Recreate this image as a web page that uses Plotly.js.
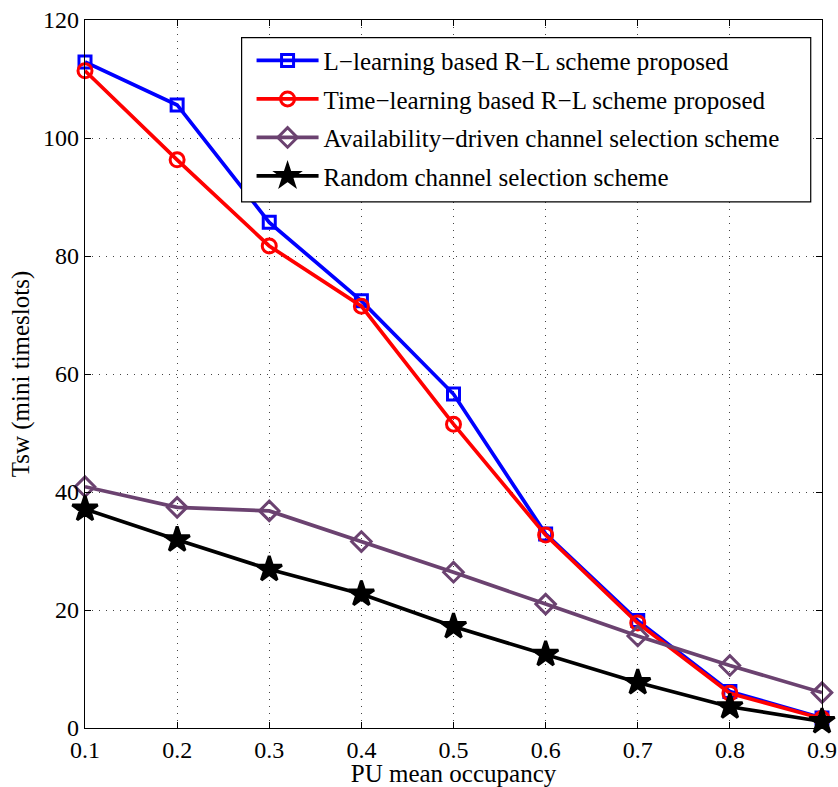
<!DOCTYPE html>
<html>
<head>
<meta charset="utf-8">
<script src="https://cdn.plot.ly/plotly-3.0.1.min.js"></script>
<style>
  html, body { margin: 0; padding: 0; background: #fff; }
  #chart { width: 838px; height: 787px; }
</style>
</head>
<body>
<div id="chart"></div>
<script>
// PU mean occupancy values on the x axis
const occupancy = [0.1, 0.2, 0.3, 0.4, 0.5, 0.6, 0.7, 0.8, 0.9];

// Tsw (mini timeslots) for each scheme
const lLearning    = [112.9, 105.6, 85.7, 72.4, 56.6, 32.9, 18.2, 6.2, 1.7];
const timeLearning = [111.4, 96.3, 81.7, 71.5, 51.5, 32.7, 17.8, 5.9, 1.6];
const availability = [40.9, 37.4, 36.8, 31.6, 26.4, 21.0, 15.6, 10.6, 6.0];
const randomSel    = [37.1, 31.9, 26.9, 22.7, 17.2, 12.5, 7.7, 3.6, 1.1];

const names = [
  'L\u2212learning based R\u2212L scheme proposed',
  'Time\u2212learning based R\u2212L scheme proposed',
  'Availability\u2212driven channel selection scheme',
  'Random channel selection scheme'
];

const xTicks = [0.1, 0.2, 0.3, 0.4, 0.5, 0.6, 0.7, 0.8, 0.9];
const xTickText = ['0.1', '0.2', '0.3', '0.4', '0.5', '0.6', '0.7', '0.8', '0.9'];
const yTicks = [0, 20, 40, 60, 80, 100, 120];

const serif = 'Liberation Serif, Times New Roman, serif';

function series(y, name, color, symbol, size, group) {
  return {
    x: occupancy, y: y, name: name, type: 'scatter', mode: 'lines+markers',
    legendgroup: group,
    line: { color: color, width: 3.7 },
    marker: { symbol: symbol, size: size, color: color,
              line: { color: color, width: 3 } },
    cliponaxis: false
  };
}

const traces = [
  series(lLearning, names[0], '#0000ff', 'square-open', 12, 'a'),
  series(timeLearning, names[1], '#ff0000', 'circle-open', 14, 'b'),
  series(availability, names[2], '#6b4270', 'diamond-open', 15, 'c'),
  series(randomSel, names[3], '#000000', 'star', 19, 'd')
];

const axisCommon = {
  showline: true, linecolor: '#000', linewidth: 1.2, mirror: 'ticks',
  ticks: 'inside', ticklen: 6, tickcolor: '#000',
  showgrid: true, gridcolor: '#444', griddash: '1px,6px', gridwidth: 1,
  zeroline: false,
  tickfont: { family: serif, size: 24, color: '#000' }
};

const layout = {
  width: 838, height: 787,
  margin: { l: 85, r: 16, t: 20, b: 59 },
  paper_bgcolor: '#fff', plot_bgcolor: '#fff',
  showlegend: true,
  legend: {
    x: 0.226, y: 0.975, xanchor: 'left', yanchor: 'top',
    bgcolor: 'rgba(0,0,0,0)', borderwidth: 0,
    font: { family: serif, size: 25, color: '#000' },
    tracegroupgap: 3, itemwidth: 62,
    traceorder: 'grouped'
  },
  // legend frame
  shapes: [{
    type: 'rect', xref: 'paper', yref: 'paper', layer: 'above',
    x0: 0.2125, x1: 0.9847, y0: 0.743, y1: 0.975,
    fillcolor: '#fff', line: { color: '#000', width: 1.2 }
  }],
  xaxis: Object.assign({}, axisCommon, {
    range: [0.1, 0.9], tickvals: xTicks, ticktext: xTickText,
    title: { text: 'PU mean occupancy', font: { family: serif, size: 25, color: '#000' }, standoff: 0 }
  }),
  yaxis: Object.assign({}, axisCommon, {
    range: [0, 120], tickvals: yTicks,
    title: { text: 'Tsw (mini timeslots)', font: { family: serif, size: 25, color: '#000' }, standoff: 6 }
  })
};

Plotly.newPlot('chart', traces, layout, { displayModeBar: false, staticPlot: true });
</script>
</body>
</html>
